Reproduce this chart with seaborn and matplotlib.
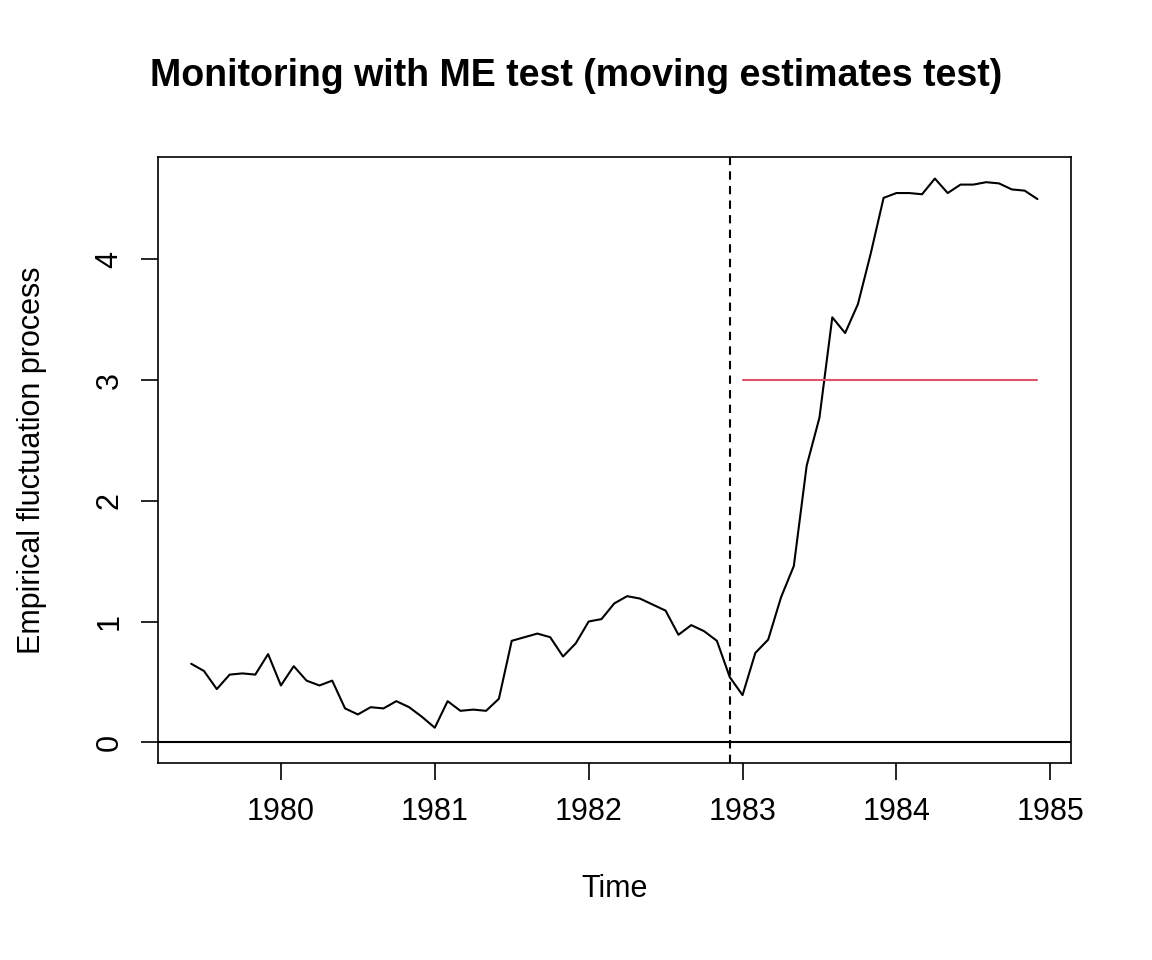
import numpy as np
import pandas as pd
import matplotlib
matplotlib.use("Agg")
import matplotlib.pyplot as plt
import seaborn as sns

start_year = 1979
start_month = 6  # June 1979, monthly
values = [0.65, 0.59, 0.44, 0.56, 0.57, 0.56, 0.73, 0.47, 0.63, 0.51, 0.47, 0.51,
          0.28, 0.23, 0.29, 0.28, 0.34, 0.29, 0.21, 0.12, 0.34, 0.26, 0.27, 0.26,
          0.36, 0.84, 0.87, 0.90, 0.87, 0.71, 0.82, 1.00, 1.02, 1.15, 1.21, 1.19,
          1.14, 1.09, 0.89, 0.97, 0.92, 0.84, 0.54, 0.39, 0.74, 0.85, 1.20, 1.46,
          2.29, 2.69, 3.52, 3.39, 3.63, 4.05, 4.51, 4.55, 4.55, 4.54, 4.67, 4.55,
          4.62, 4.62, 4.64, 4.63, 4.58, 4.57, 4.50]
boundary_value = 3.0
monitor_start = 1983.0
history_end = 1982 + 11/12
xticks = [1980, 1981, 1982, 1983, 1984, 1985]
yticks = [0, 1, 2, 3, 4]

times = start_year + (start_month - 1) / 12 + np.arange(len(values)) / 12
df = pd.DataFrame({"Time": times, "value": values})
bt = times[times >= monitor_start - 1e-9]
bdf = pd.DataFrame({"Time": bt, "value": [boundary_value] * len(bt)})

sns.set_style("white")
plt.rcParams['font.family'] = ['Liberation Sans', 'DejaVu Sans']
plt.rcParams['text.color'] = 'black'
plt.rcParams['axes.labelcolor'] = 'black'
plt.rcParams['xtick.color'] = 'black'
plt.rcParams['ytick.color'] = 'black'

fig = plt.figure(figsize=(11.52, 9.6), dpi=100)
ax = fig.add_axes([0.137, 0.205, 0.793, 0.631])
sns.lineplot(data=df, x="Time", y="value", ax=ax, color="black", lw=1.5)
sns.lineplot(data=bdf, x="Time", y="value", ax=ax, color="#DF536B", lw=1.5)
ax.axhline(0, color="black", lw=1.5)
ax.axvline(history_end, color="black", lw=1.5, ls=(0, (4, 3)))

ax.set_xlim(1979.2, 1985.137)
ax.set_ylim(-0.174, 4.845)
ax.set_xticks(xticks)
ax.set_yticks(yticks)
ax.set_yticklabels([str(t) for t in yticks], rotation=90, va="center")
ax.tick_params(axis="both", direction="out", length=12, width=1.2, labelsize=22,
               colors="black", pad=12, bottom=True, left=True)
for s in ax.spines.values():
    s.set_color("black")
    s.set_linewidth(1.2)
ax.set_xlabel("Time", fontsize=22, labelpad=34)
ax.set_ylabel("Empirical fluctuation process", fontsize=22, labelpad=34)
fig.suptitle("Monitoring with ME test (moving estimates test)", fontsize=27,
             fontweight="bold", y=0.94)
fig.savefig("out.png", dpi=100)
